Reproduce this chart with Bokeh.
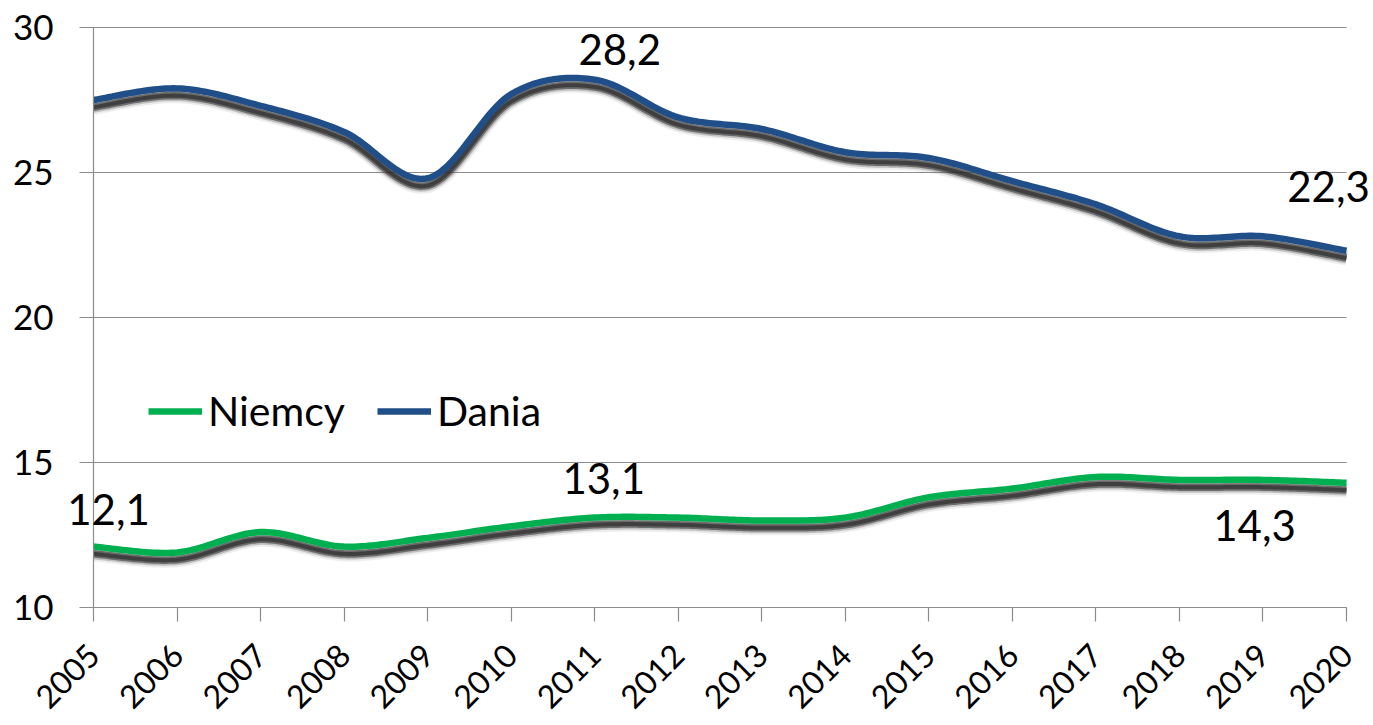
import numpy as np
from bokeh.plotting import figure
from bokeh.models import (ColumnDataSource, LabelSet, Legend, LegendItem,
                          FixedTicker, Range1d)
from bokeh.core.properties import value
from bokeh.embed import file_html
from bokeh.resources import INLINE

# ---------------- data ----------------
years = list(range(2005, 2021))
niemcy = [12.1, 11.9, 12.6, 12.1, 12.4, 12.8, 13.1, 13.1, 13.0, 13.1,
          13.8, 14.1, 14.5, 14.4, 14.4, 14.3]
dania = [27.5, 27.9, 27.3, 26.4, 24.8, 27.7, 28.2, 26.9, 26.5, 25.7,
         25.5, 24.7, 23.9, 22.8, 22.8, 22.3]
y_ticks = [10, 15, 20, 25, 30]

label_years = [2011, 2020, 2005, 2011, 2020]
label_values = [28.2, 22.3, 12.1, 13.1, 14.3]
label_texts = ["28,2", "22,3", "12,1", "13,1", "14,3"]
# pixel offsets of each data label from its point (style, not data)
label_dx = [25, -18, 15, 9, -92]
label_dy = [30, 64, 37, 39, -43]

GREEN = "#00B050"
BLUE = "#1F4E88"
FONT = "Lato"

W, H = 1373, 724
# screen positions of the data area (reference layout)
PX_L, PX_R = 93, 1346     # x of first / last year
PX_T, PX_B = 27, 607      # y of axis max / min
y_min, y_max = y_ticks[0], y_ticks[-1]
ppx = (PX_R - PX_L) / (years[-1] - years[0])
ppy = (PX_B - PX_T) / (y_max - y_min)
x_start = years[0] - PX_L / ppx
x_end = years[-1] + (W - PX_R) / ppx
y_start = y_min - (H - PX_B) / ppy
y_end = y_max + PX_T / ppy


def smooth(xs, ys, n=24):
    """Excel-like smoothed curve (cubic Bezier, Catmull-Rom control points)."""
    P = np.column_stack([np.asarray(xs, float), np.asarray(ys, float)])
    out = []
    m = len(P)
    for i in range(m - 1):
        p0 = P[i - 1] if i > 0 else P[i]
        p1 = P[i]
        p2 = P[i + 1]
        p3 = P[i + 2] if i + 2 < m else P[i + 1]
        c1 = p1 + (p2 - p0) / 6.0
        c2 = p2 - (p3 - p1) / 6.0
        t = np.linspace(0, 1, n, endpoint=(i == m - 2))[:, None]
        b = ((1 - t) ** 3) * p1 + 3 * ((1 - t) ** 2) * t * c1 \
            + 3 * (1 - t) * t ** 2 * c2 + t ** 3 * p2
        out.append(b)
    out = np.vstack(out)
    return out[:, 0], out[:, 1]


p = figure(width=W, height=H, output_backend="svg", toolbar_location=None,
           x_range=Range1d(x_start, x_end), y_range=Range1d(y_start, y_end),
           min_border_left=0, min_border_right=0, min_border_top=0,
           min_border_bottom=0)
p.outline_line_color = None
p.background_fill_color = "white"
p.border_fill_color = "white"

# axes
for ax in (p.xaxis[0], p.yaxis[0]):
    ax.axis_line_color = "#8c8c8c"
    ax.axis_line_width = 1.2
    ax.major_tick_line_color = "#8c8c8c"
    ax.major_tick_line_width = 1.2
    ax.major_tick_in = 0
    ax.major_tick_out = 14
    ax.minor_tick_line_color = None
    ax.major_label_text_font = FONT
    ax.major_label_text_color = "black"

p.xaxis.major_label_text_font_size = "32px"
p.yaxis.major_label_text_font_size = "35px"
p.xaxis.ticker = FixedTicker(ticks=years)
p.xaxis.major_label_overrides = {y: str(y) for y in years}
p.xaxis.major_label_orientation = np.pi / 4
p.xaxis.major_label_standoff = 28
p.xaxis.bounds = (years[0], years[-1])
p.xaxis.fixed_location = y_min
p.yaxis.ticker = FixedTicker(ticks=y_ticks)
p.yaxis.major_label_standoff = 26
p.yaxis.bounds = (y_min, y_max)
p.yaxis.fixed_location = years[0]

p.xgrid.grid_line_color = None
p.ygrid.grid_line_color = "#8c8c8c"
p.ygrid.grid_line_width = 1.2
p.ygrid.bounds = (y_min, y_max)
p.ygrid.cross_bounds = (years[0], years[-1])

# shadows + lines
SH = 0.25  # shadow drop in data units (~7px)
legend_items = []
for name, vals, col in (("Niemcy", niemcy, GREEN), ("Dania", dania, BLUE)):
    sx, sy = smooth(years, vals)
    src = ColumnDataSource(dict(x=sx, y=sy, ys=sy - SH))
    p.line("x", "ys", source=src, line_color="#888888", line_width=15,
           line_alpha=0.15, line_join="round")
    p.line("x", "ys", source=src, line_color="#555555", line_width=11,
           line_alpha=0.3, line_join="round")
    p.line("x", "ys", source=src, line_color="#333333", line_width=7.5,
           line_alpha=0.6, line_join="round")
    p.line("x", "ys", source=src, line_color="#222222", line_width=4,
           line_alpha=0.6, line_join="round")
    r = p.line("x", "y", source=src, line_color=col, line_width=6.5,
               line_join="round")
    legend_items.append(LegendItem(label=name, renderers=[r]))

legend = Legend(items=legend_items,
                location=(148, 172 + (H - PX_B)), orientation="horizontal",
                label_text_font=FONT, label_text_font_size="41px",
                label_text_color="black", glyph_width=54, glyph_height=40,
                label_standoff=6, spacing=32, padding=0, margin=0,
                border_line_alpha=0, background_fill_alpha=0)
p.add_layout(legend)

# data labels
lsrc = ColumnDataSource(dict(x=label_years, y=label_values, t=label_texts,
                             dx=label_dx, dy=label_dy))
labels = LabelSet(x="x", y="y", text="t", x_offset="dx", y_offset="dy",
                  source=lsrc, text_align="center", text_baseline="middle",
                  text_font=value(FONT), text_font_size="42px",
                  text_color="black")
p.add_layout(labels)

open("out.html", "w").write(file_html(p, INLINE))
